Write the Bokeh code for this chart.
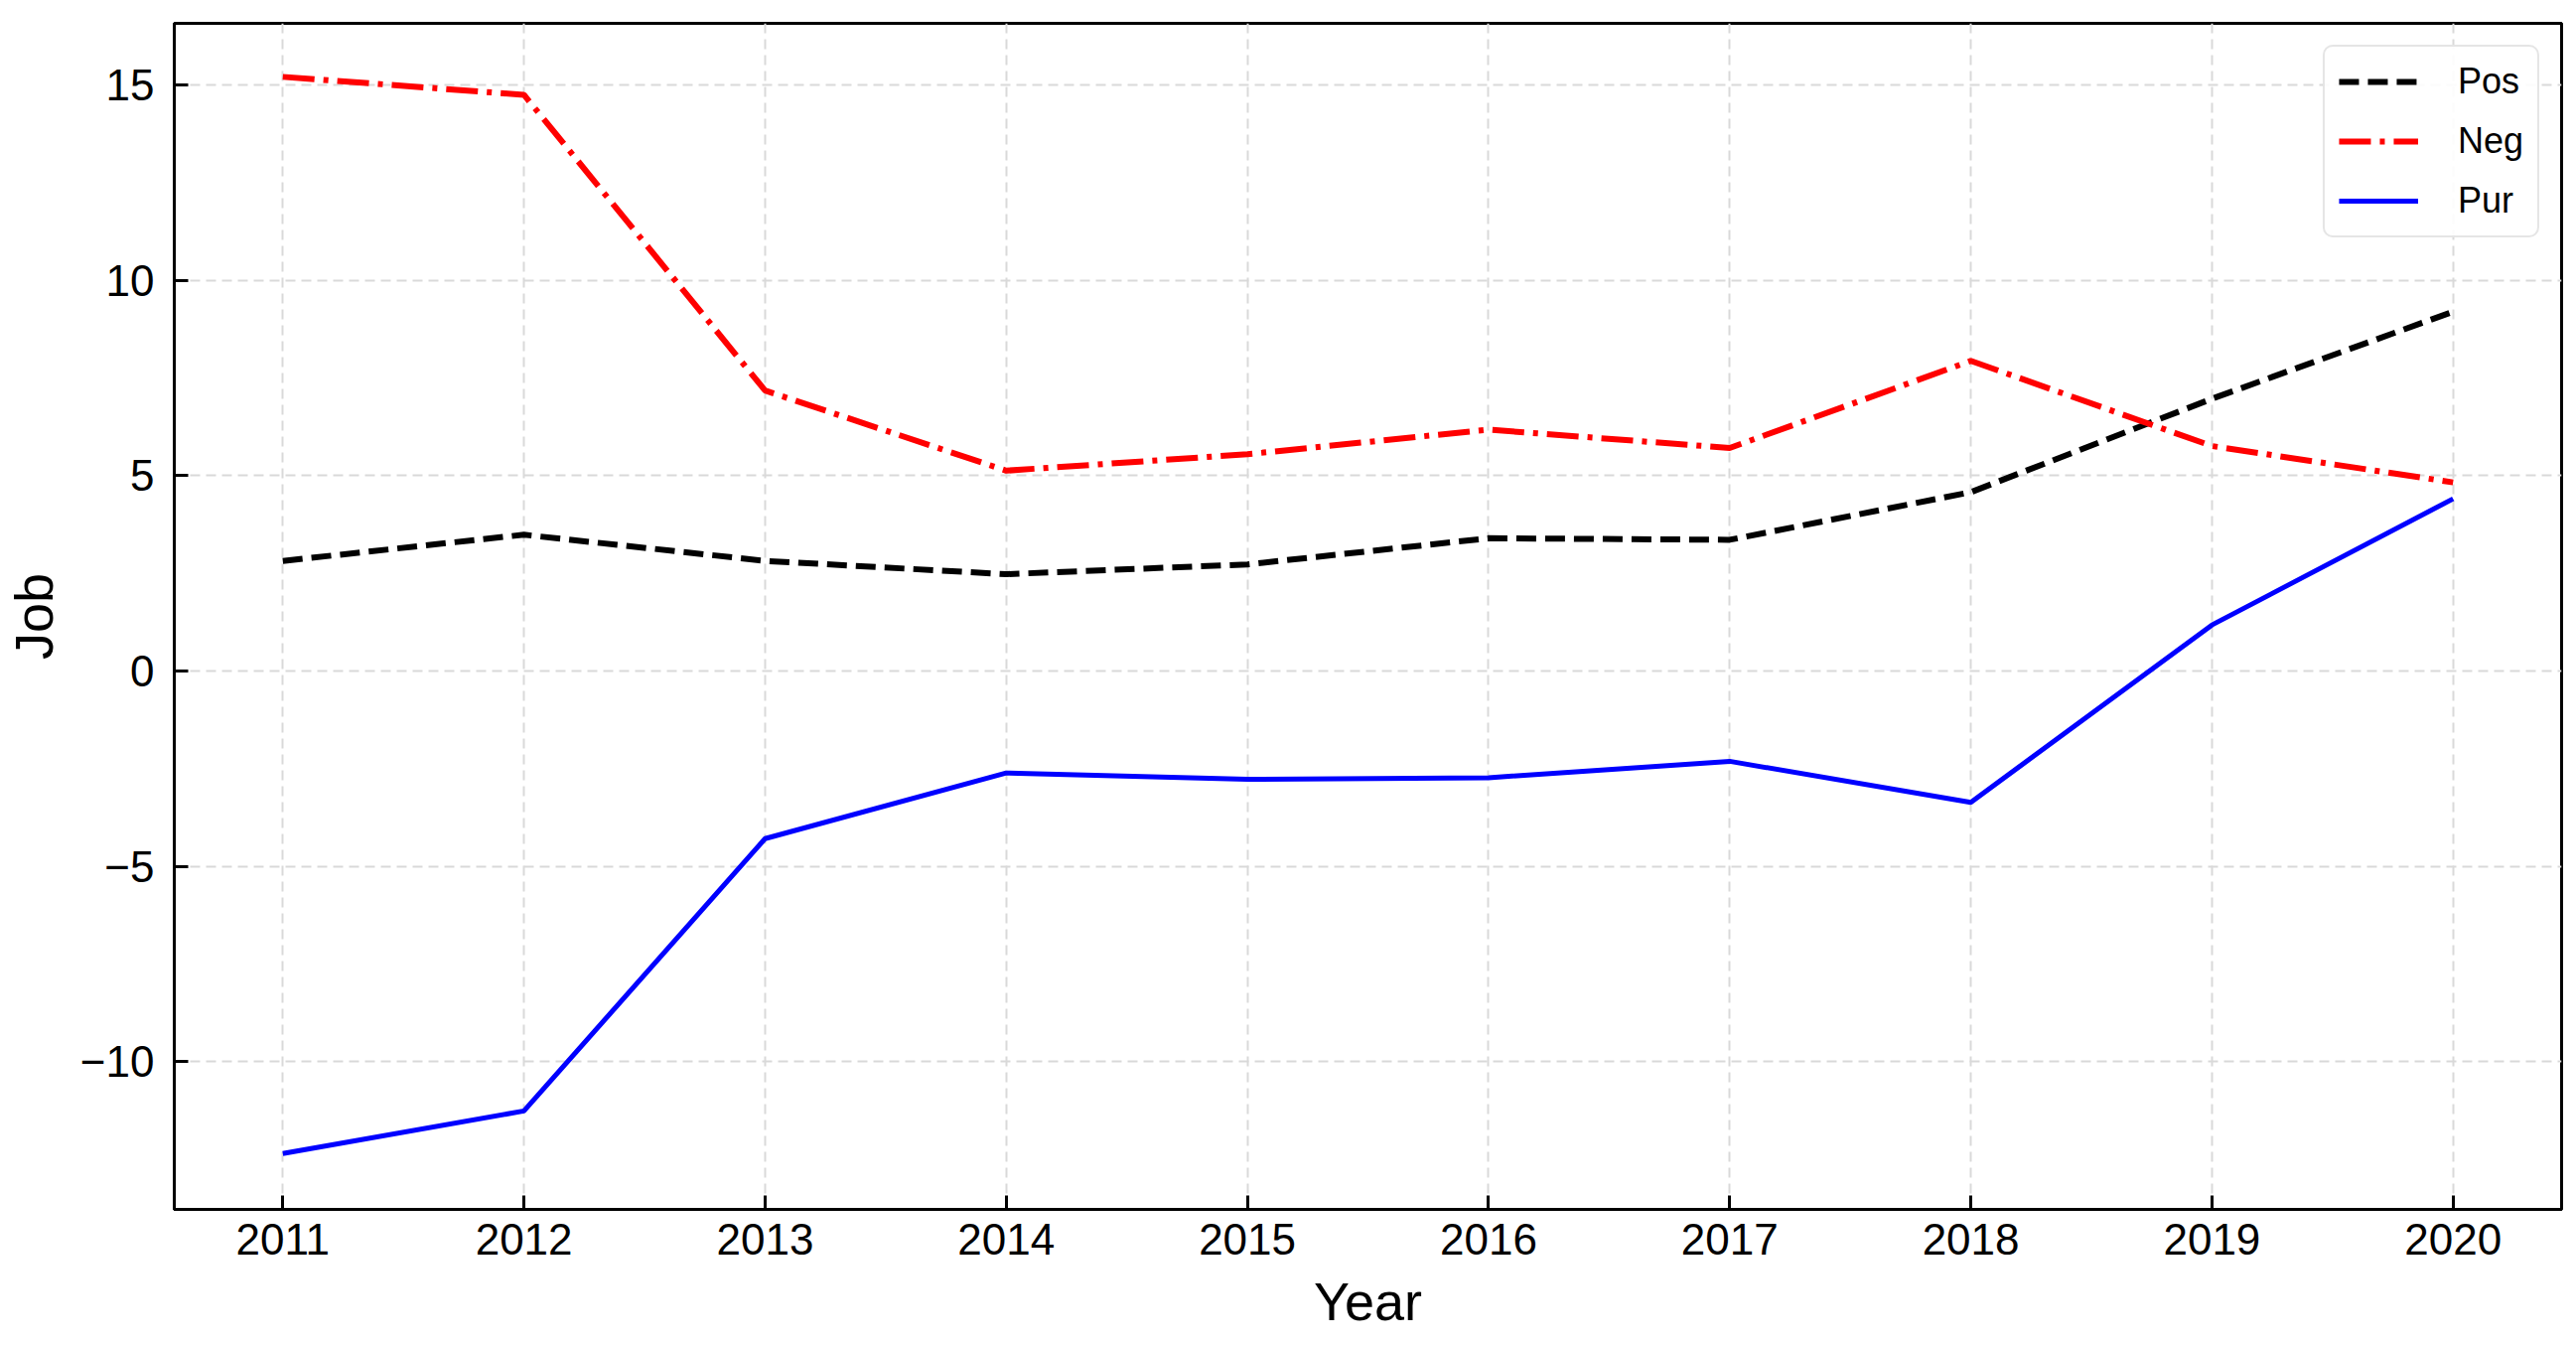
from bokeh.plotting import figure
from bokeh.models import Range1d, Legend, LegendItem, FixedTicker
from bokeh.embed import file_html
from bokeh.resources import INLINE

years = [2011, 2012, 2013, 2014, 2015, 2016, 2017, 2018, 2019, 2020]
pos = [2.82, 3.49, 2.82, 2.48, 2.73, 3.40, 3.36, 4.58, 6.97, 9.20]
neg = [15.21, 14.75, 7.18, 5.13, 5.55, 6.18, 5.71, 7.94, 5.76, 4.83]
pur = [-12.35, -11.26, -4.29, -2.61, -2.77, -2.73, -2.31, -3.36, 1.18, 4.41]
y_ticks = [-10, -5, 0, 5, 10, 15]

FONT = "Liberation Sans"

p = figure(frame_width=2404, frame_height=1194,
           x_range=Range1d(2010.55, 2020.45), y_range=Range1d(-13.78, 16.58),
           output_backend="svg", toolbar_location=None,
           min_border_left=175, min_border_top=23, min_border_right=7, min_border_bottom=122)

p.outline_line_color = "black"
p.outline_line_width = 3
p.background_fill_color = "white"

for ax in (p.xaxis[0], p.yaxis[0]):
    ax.axis_line_color = "black"
    ax.axis_line_width = 3
    ax.major_tick_in = 14
    ax.major_tick_out = 0
    ax.major_tick_line_width = 3
    ax.major_tick_line_color = "black"
    ax.minor_tick_line_color = None
    ax.major_label_text_font = FONT
    ax.major_label_text_font_size = "44px"
    ax.major_label_text_color = "black"
    ax.axis_label_text_font = FONT
    ax.axis_label_text_font_size = "54px"
    ax.axis_label_text_font_style = "normal"
    ax.axis_label_text_color = "black"

p.xaxis.ticker = FixedTicker(ticks=years)
p.yaxis.ticker = FixedTicker(ticks=y_ticks)
p.yaxis.major_label_overrides = {t: str(t).replace("-", "\u2212") for t in y_ticks}
p.xaxis.axis_label = "Year"
p.yaxis.axis_label = "Job"
p.xaxis.major_label_standoff = 14
p.yaxis.major_label_standoff = 20
p.xaxis.axis_label_standoff = 14
p.yaxis.axis_label_standoff = 14

p.grid.grid_line_color = "#d9d9d9"
p.grid.grid_line_width = 2
p.grid.grid_line_dash = "10 6"

r_pos = p.line(years, pos, line_color="black", line_width=6, line_dash="20 9")
r_neg = p.line(years, neg, line_color="red", line_width=6, line_dash="32 9 5 9")
r_pur = p.line(years, pur, line_color="blue", line_width=5)

legend = Legend(items=[LegendItem(label="Pos", renderers=[r_pos]),
                       LegendItem(label="Neg", renderers=[r_neg]),
                       LegendItem(label="Pur", renderers=[r_pur])],
                location="top_right")
legend.label_text_font = FONT
legend.label_text_font_size = "36px"
legend.label_text_color = "black"
legend.glyph_width = 80
legend.glyph_height = 40
legend.label_height = 40
legend.spacing = 18
legend.padding = 14
legend.label_standoff = 40
legend.margin = 22
legend.border_line_color = "#cccccc"
legend.border_line_width = 2
legend.background_fill_alpha = 0.9
try:
    legend.border_radius = 10
except Exception:
    pass
p.add_layout(legend)

open("out.html", "w").write(file_html(p, INLINE))
